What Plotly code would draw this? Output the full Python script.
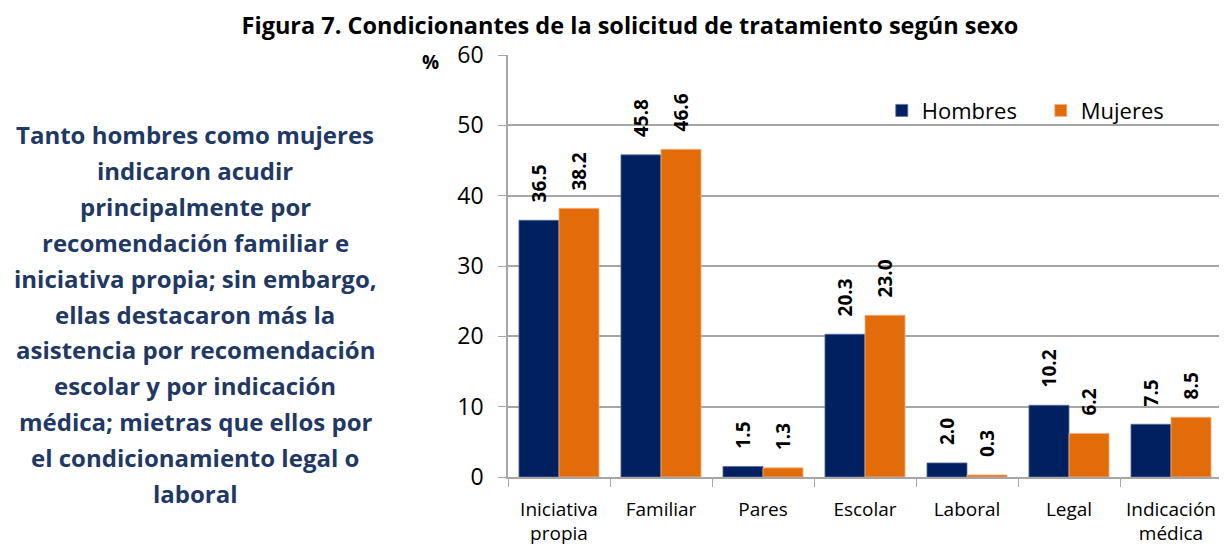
import plotly.graph_objects as go

categories = ['Iniciativa<br>propia', 'Familiar', 'Pares', 'Escolar', 'Laboral', 'Legal', 'Indicación<br>médica']
hombres = [36.5, 45.8, 1.5, 20.3, 2.0, 10.2, 7.5]
mujeres = [38.2, 46.6, 1.3, 23.0, 0.3, 6.2, 8.5]

side_lines = [
    'Tanto hombres como mujeres',
    'indicaron acudir',
    'principalmente por',
    'recomendación familiar e',
    'iniciativa propia; sin embargo,',
    'ellas destacaron más la',
    'asistencia por recomendación',
    'escolar y por indicación',
    'médica; mietras que ellos por',
    'el condicionamiento legal o',
    'laboral',
]

font = 'Open Sans'
navy = '#002060'
orange = '#E36C0A'

# page body has an 8px margin, so the figure is a bit smaller than the window
W, H = 1219, 540
L, R, T, B = 500, 5, 47, 71
pw, ph = W - L - R, H - T - B

fig = go.Figure()
for name, vals, col, edge in [('Hombres', hombres, navy, '#5B6E9A'), ('Mujeres', mujeres, orange, '#F4B183')]:
    fig.add_trace(go.Bar(
        x=categories, y=vals, name=name, marker_color=col,
        marker_line=dict(color=edge, width=0.8),
        text=['\u00a0\u00a0\u00a0' + f'{v:.1f}' for v in vals],
        textposition='outside', textangle=-90, constraintext='none',
        textfont=dict(family=font, size=19, color='black', weight='bold'),
        cliponaxis=False,
    ))

fig.update_layout(
    width=W, height=H,
    margin=dict(l=L, r=R, t=T, b=B, autoexpand=False),
    plot_bgcolor='white', paper_bgcolor='white',
    barmode='group', bargap=0.215, bargroupgap=0,
    title=dict(text='<b>Figura 7. Condicionantes de la solicitud de tratamiento según sexo</b>',
               x=622 / W, xanchor='center', y=1 - 18 / H, yanchor='middle',
               font=dict(family=font, size=23.5, color='black')),
    legend=dict(orientation='h', x=0.5235, y=0.918, xanchor='left', yanchor='top',
                bgcolor='rgba(0,0,0,0)', font=dict(family=font, size=22, color='black'),
                itemwidth=30, entrywidth=114, traceorder='normal'),
    showlegend=True,
)

fig.update_yaxes(range=[0, 60], dtick=10, showgrid=True, gridcolor='#A6A6A6', gridwidth=1.5,
                 showline=True, linecolor='#A6A6A6', linewidth=1.5,
                 ticks='outside', ticklen=8, tickcolor='#A6A6A6', ticklabelstandoff=10,
                 tickfont=dict(family=font, size=23, color='black'), zeroline=False)
fig.update_xaxes(showline=True, linecolor='#A6A6A6', linewidth=1.5,
                 ticks='outside', tickson='boundaries', ticklen=8, tickcolor='#A6A6A6',
                 ticklabelstandoff=14,
                 tickfont=dict(family=font, size=19, color='black'))

fig.add_annotation(text='<b>%</b>', xref='paper', yref='paper', x=(422 - L) / pw, y=1 - 7 / ph,
                   xanchor='center', yanchor='middle', showarrow=False,
                   font=dict(family=font, size=19, color='black'))

for i, line in enumerate(side_lines):
    fig.add_annotation(text=f'<b>{line}</b>', xref='paper', yref='paper',
                       x=(187 - L) / pw, y=(H - B - (127 + 35.8 * i)) / ph,
                       xanchor='center', yanchor='middle', showarrow=False,
                       font=dict(family=font, size=24, color='#1F3864'))

fig.write_html('out.html')
